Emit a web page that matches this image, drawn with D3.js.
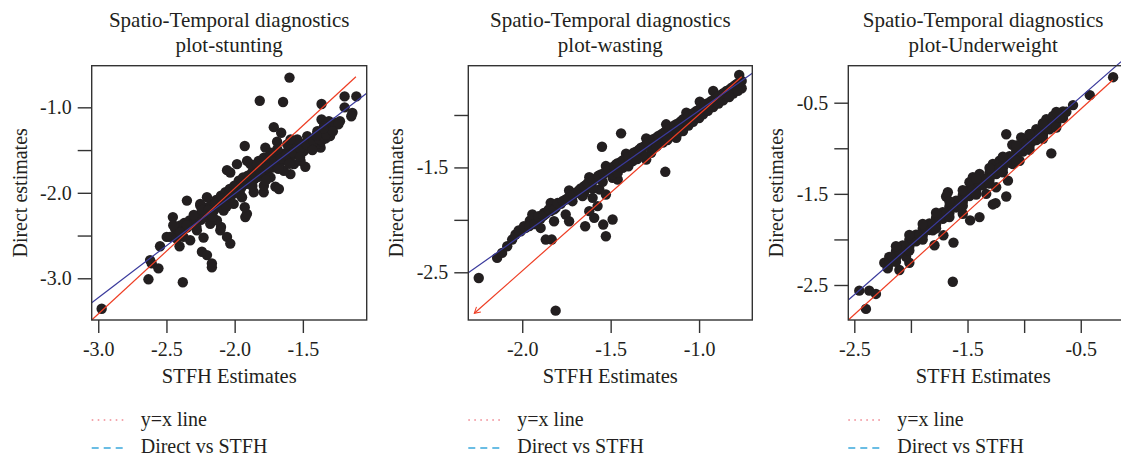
<!DOCTYPE html>
<html><head><meta charset="utf-8">
<script src="https://cdn.jsdelivr.net/npm/d3@7/dist/d3.min.js"></script>
<style>html,body{margin:0;padding:0;background:#fff;}svg{display:block;}</style>
</head><body>
<svg id="chart" width="1121" height="459"></svg>
<script>
// ---------- DATA ----------
const titles = ["plot-stunting", "plot-wasting", "plot-Underweight"];
const titleLine1 = "Spatio-Temporal diagnostics";
const xLabel = "STFH Estimates";
const yLabel = "Direct estimates";
const legendLabels = ["y=x line", "Direct vs STFH"];

const stuntingPoints = [
[-1.598,-0.652],[-1.816,-0.923],[-1.645,-0.938],[-1.363,-0.961],[-1.194,-0.872],[-1.108,-0.872],[-1.194,-1.0],[-1.137,-1.066],[-1.145,-1.104],[-1.228,-1.162],[-1.363,-1.143],[-1.309,-1.162],[-1.32,-1.24],[-1.346,-1.298],[-1.713,-1.232],[-1.659,-1.298],[-1.926,-1.453],[-1.775,-1.472],[-1.689,-1.402],[-1.571,-1.426],[-1.493,-1.511],[-1.444,-1.464],[-1.37,-1.472],[-1.482,-1.696],[-1.591,-1.781],[-1.701,-1.928],[-1.676,-1.955],[-1.787,-1.994],[-1.922,-2.284],[-1.91,-2.246],[-2.056,-1.735],[-2.032,-1.762],[-1.983,-1.665],[-1.909,-1.627],[-1.824,-1.627],[-2.35,-2.091],[-2.453,-2.284],[-2.252,-2.149],[-2.056,-2.516],[-2.032,-2.594],[-2.24,-2.69],[-2.203,-2.729],[-2.167,-2.826],[-2.167,-2.872],[-2.38,-3.046],[-2.632,-3.012],[-2.608,-2.826],[-2.559,-2.884],[-2.62,-2.787],[-2.547,-2.625],[-2.498,-2.516],[-2.404,-2.625],[-2.326,-2.555],[-2.228,-2.524],[-2.975,-3.356],[-1.926,-2.168],[-2.105,-2.439],[-2.10,-2.40],
[-2.436,-2.420],[-2.419,-2.458],[-2.399,-2.381],[-2.387,-2.439],[-2.370,-2.354],[-2.350,-2.408],[-2.331,-2.323],[-2.313,-2.369],[-2.296,-2.284],[-2.282,-2.342],[-2.264,-2.265],[-2.247,-2.315],[-2.228,-2.226],[-2.215,-2.284],[-2.198,-2.168],[-2.184,-2.238],[-2.166,-2.130],[-2.149,-2.199],[-2.135,-2.083],[-2.117,-2.149],[-2.100,-2.033],[-2.086,-2.110],[-2.068,-1.994],[-2.051,-2.052],[-2.036,-1.956],[-2.019,-2.021],[-2.002,-1.917],[-1.987,-1.975],[-1.970,-1.859],[-1.953,-1.944],[-1.938,-1.820],[-1.921,-1.898],[-1.904,-1.801],[-1.889,-1.867],[-1.872,-1.762],[-1.855,-1.839],[-1.840,-1.735],[-1.823,-1.812],[-1.806,-1.704],[-1.791,-1.781],[-1.774,-1.665],[-1.757,-1.735],[-1.742,-1.627],[-1.725,-1.704],[-1.708,-1.596],[-1.693,-1.665],[-1.676,-1.569],[-1.659,-1.634],[-1.644,-1.542],[-1.627,-1.607],[-1.610,-1.518],[-1.595,-1.588],[-1.578,-1.491],[-1.561,-1.549],[-1.546,-1.464],[-1.529,-1.530],[-1.512,-1.441],[-1.497,-1.503],[-1.480,-1.414],[-1.463,-1.472],[-1.448,-1.387],[-1.431,-1.453],[-1.414,-1.364],[-1.399,-1.426],[-1.382,-1.337],[-1.365,-1.395],[-1.350,-1.310],[-1.333,-1.364],[-1.316,-1.279],[-1.301,-1.337],
[-2.473,-2.516],[-2.424,-2.536],[-2.375,-2.516],[-2.277,-2.439],[-2.179,-2.362],[-2.130,-2.323],[-2.203,-2.052],[-2.252,-2.130],[-2.081,-2.207],[-2.007,-2.130],[-1.946,-2.052],[-1.860,-1.994],[-1.786,-1.917],[-1.737,-1.820],[-1.639,-1.743],[-1.566,-1.665],[-1.517,-1.627],[-1.884,-1.665],[-1.786,-1.588],[-1.688,-1.491],[-1.615,-1.433],[-1.541,-1.375],[-1.468,-1.337],[-1.394,-1.279],[-1.345,-1.221],[-1.296,-1.259],[-1.590,-1.375],[-1.737,-1.530],[-1.836,-1.665],
[-2.30,-2.26],[-2.24,-2.20],[-2.19,-2.20],[-2.14,-2.12],[-2.09,-2.07],[-2.04,-2.00],[-1.99,-1.94],[-1.95,-1.90],[-1.90,-1.85],[-1.85,-1.80],[-1.81,-1.76],[-1.76,-1.70],[-1.71,-1.64],[-1.66,-1.60],[-1.62,-1.56],[-1.57,-1.53],[-1.52,-1.48],[-1.47,-1.44],[-1.42,-1.40],[-1.38,-1.37],[-1.33,-1.32],[-2.16,-2.28],[-2.06,-2.16],[-1.96,-2.02],[-1.87,-1.92],[-1.77,-1.85],[-1.68,-1.72],[-1.60,-1.66],[-1.52,-1.58],[-1.43,-1.50],[-2.35,-2.38],[-2.40,-2.46],[-2.45,-2.38],[-2.28,-2.40],
[-1.30,-1.22],[-1.27,-1.18],[-1.24,-1.20],[-1.28,-1.28],[-1.35,-1.25],[-1.40,-1.33]
];

const wastingPoints = [
[-2.246,-2.554],[-1.811,-2.866],[-1.441,-1.175],[-1.549,-1.303],[-1.191,-1.542],[-1.644,-2.061],[-1.593,-1.981],[-1.542,-2.045],[-1.489,-1.997],[-1.527,-2.156],[-1.867,-2.188],[-1.833,-2.188],[-2.142,-2.363],[-2.114,-2.315],[-2.085,-2.252],[-2.057,-2.188],[-1.957,-2.007],[-1.905,-1.965],[-1.877,-1.933],[-1.839,-1.838],[-1.896,-2.077],[-1.820,-2.013],[-1.754,-1.949],[-1.735,-2.013],[-1.602,-1.790],[-1.564,-1.710],[-1.574,-1.869],[-1.527,-1.758],[-1.650,-1.742],[-1.621,-1.917],[-1.489,-1.599],[-1.460,-1.615],[-1.299,-1.424],[-1.271,-1.360],[-1.129,-1.217],[-1.091,-1.153],[-0.773,-0.618],
[-2.038,-2.140],[-2.009,-2.109],[-1.981,-2.077],[-1.953,-2.038],[-1.924,-2.013],[-1.896,-1.987],[-1.867,-1.943],[-1.839,-1.917],[-1.811,-1.886],[-1.782,-1.847],[-1.754,-1.806],[-1.725,-1.774],[-1.697,-1.742],[-1.669,-1.701],[-1.640,-1.669],[-1.612,-1.631],[-1.583,-1.605],[-1.555,-1.567],[-1.527,-1.542],[-1.498,-1.503],[-1.470,-1.472],[-1.441,-1.446],[-1.413,-1.414],[-1.384,-1.382],[-1.356,-1.350],[-1.328,-1.312],[-1.299,-1.280],[-1.271,-1.249],[-1.242,-1.217],[-1.214,-1.185],[-1.186,-1.153],[-1.157,-1.121],[-1.129,-1.089],[-1.100,-1.057],[-1.072,-1.019],[-1.044,-0.994],[-1.015,-0.962],[-0.987,-0.930],[-0.958,-0.892],[-0.930,-0.866],[-0.901,-0.835],[-0.873,-0.803],[-0.845,-0.771],[-0.816,-0.739],[-0.788,-0.707],[-0.759,-0.675],
[-1.716,-1.822],[-1.659,-1.774],[-1.602,-1.701],[-1.545,-1.637],[-1.489,-1.567],[-1.432,-1.503],[-1.375,-1.440],[-1.318,-1.382],[-1.261,-1.319],[-1.205,-1.264],[-1.148,-1.201],[-1.091,-1.137],[-1.034,-1.064],[-0.977,-0.994],[-0.920,-0.924],[-0.864,-0.860],[-0.807,-0.796],[-0.759,-0.745],
[-1.943,-1.949],[-1.830,-1.854],[-1.735,-1.720],[-1.621,-1.593],[-1.527,-1.487],[-1.413,-1.370],[-1.299,-1.223],[-1.186,-1.089],[-1.072,-0.978],[-0.996,-0.873],[-0.920,-0.771],
[-2.02,-2.10],[-1.99,-2.06],[-1.96,-2.06],[-1.93,-2.04],[-1.91,-1.97],[-1.88,-1.96],[-1.85,-1.90],[-1.82,-1.90],[-1.80,-1.84],[-1.77,-1.82],[-1.74,-1.79],[-1.71,-1.76],[-1.68,-1.72],[-1.65,-1.68],[-1.63,-1.65],[-1.60,-1.63],[-1.57,-1.58],[-1.54,-1.56],[-1.51,-1.52],[-1.48,-1.49],[-1.46,-1.46],[-1.43,-1.43],[-1.40,-1.40],[-1.37,-1.36],[-1.34,-1.33],[-1.31,-1.30],[-1.29,-1.26],[-1.26,-1.23],[-1.23,-1.20],[-1.20,-1.17],[-1.17,-1.14],[-1.14,-1.10],[-1.11,-1.07],[-1.09,-1.04],[-1.06,-1.01],[-1.03,-0.98],[-1.00,-0.95],[-0.97,-0.91],[-0.94,-0.88],[-0.91,-0.85],[-0.89,-0.82],[-0.86,-0.79],[-0.83,-0.76],[-0.80,-0.72],[-0.78,-0.70],
[-1.24,-1.30],[-1.18,-1.24],[-1.12,-1.17],[-1.06,-1.10],[-1.00,-1.03],[-0.95,-0.96],[-0.89,-0.89],[-0.83,-0.83],[-0.78,-0.77],[-1.46,-1.55],[-1.40,-1.49],[-1.35,-1.42]
];

const underweightPoints = [
[-0.214,-0.220],[-0.420,-0.417],[-0.568,-0.526],[-1.158,-0.846],[-1.105,-0.962],[-0.760,-1.056],[-1.143,-1.355],[-1.158,-1.529],[-1.276,-1.616],[-1.252,-1.602],[-1.394,-1.755],[-1.477,-1.791],[-1.674,-1.482],[-1.689,-1.529],[-1.713,-1.955],[-1.624,-2.035],[-1.792,-2.064],[-2.014,-2.256],[-2.102,-2.336],[-2.205,-2.318],[-2.235,-2.256],[-2.191,-2.227],[-1.630,-2.464],[-2.456,-2.562],[-2.368,-2.562],[-2.309,-2.598],[-2.397,-2.762],
[-2.191,-2.191],[-2.191,-2.264],[-2.132,-2.129],[-2.132,-2.202],[-2.073,-2.067],[-2.073,-2.140],[-2.014,-2.005],[-2.014,-2.078],[-1.955,-1.947],[-1.955,-2.020],[-1.896,-1.885],[-1.896,-1.958],[-1.837,-1.824],[-1.837,-1.896],[-1.778,-1.762],[-1.778,-1.835],[-1.719,-1.700],[-1.719,-1.773],[-1.660,-1.638],[-1.660,-1.711],[-1.601,-1.576],[-1.601,-1.649],[-1.542,-1.515],[-1.542,-1.587],[-1.483,-1.453],[-1.483,-1.525],[-1.424,-1.391],[-1.424,-1.464],[-1.365,-1.333],[-1.365,-1.406],[-1.306,-1.271],[-1.306,-1.344],[-1.247,-1.209],[-1.247,-1.282],[-1.188,-1.147],[-1.188,-1.220],[-1.129,-1.086],[-1.129,-1.158],[-1.070,-1.024],[-1.070,-1.096],[-1.011,-0.962],[-1.011,-1.035],[-0.952,-0.900],[-0.952,-0.973],[-0.893,-0.838],[-0.893,-0.911],[-0.834,-0.780],[-0.834,-0.853],[-0.775,-0.718],[-0.775,-0.791],[-0.716,-0.657],[-0.716,-0.729],[-0.657,-0.595],[-0.657,-0.667],
[-0.804,-0.682],[-0.745,-0.646],[-0.686,-0.627],[-0.834,-0.736],[-0.893,-0.791],[-0.952,-0.846],[-1.026,-0.882],[-0.981,-0.955],[-0.922,-0.918],[-0.863,-0.827],
[-1.453,-1.318],[-1.394,-1.282],[-1.483,-1.373],[-1.276,-1.173],[-1.217,-1.136],
[-1.542,-1.718],[-1.807,-1.900],[-2.043,-2.191],[-1.335,-1.500],[-1.247,-1.427],[-1.040,-1.137],[-1.099,-1.173],
[-2.161,-2.196],[-2.102,-2.134],[-2.043,-2.073],[-1.984,-2.011],[-1.925,-1.953],[-1.866,-1.891],[-1.807,-1.829],[-1.748,-1.767],[-1.689,-1.705],[-1.630,-1.644],[-1.571,-1.582],[-1.512,-1.520],[-1.453,-1.458],[-1.394,-1.396],[-1.335,-1.338],[-1.276,-1.276],[-1.217,-1.215],[-1.158,-1.153],[-1.099,-1.091],[-1.040,-1.029],[-0.981,-0.967],[-0.922,-0.905],[-0.863,-0.844],[-0.804,-0.785],[-0.745,-0.724],[-0.686,-0.662],[-0.627,-0.600],
[-2.132,-2.074],[-2.014,-1.951],[-1.896,-1.831],[-1.778,-1.707],[-1.660,-1.584],[-1.542,-1.460],[-1.424,-1.336],[-1.306,-1.216],[-1.188,-1.093],[-1.070,-0.969],[-0.952,-0.845],[-0.834,-0.725],[-0.716,-0.602],
[-2.132,-2.245],[-2.014,-2.122],[-1.896,-2.002],[-1.778,-1.878],[-1.660,-1.755],[-1.542,-1.631],[-1.424,-1.507],[-1.306,-1.387],[-1.188,-1.264],[-1.070,-1.140],[-0.952,-1.016],[-0.834,-0.896],[-0.716,-0.773]
];

// reference lines (endpoints in data units): "y=x" (red) and fitted (blue)
const redLines = [
  [[-3.048,-3.488],[-1.111,-0.642]],
  [[-0.759,-0.635],[-2.271,-2.891]],
  [[-2.553,-2.884],[-0.217,-0.251]]
];
const blueLines = [
  [[-3.048,-3.285],[-1.032,-0.836]],
  [[-2.305,-2.504],[-0.699,-0.602]],
  [[-2.553,-2.664],[-0.144,-0.050]]
];

const xTicks = [[-3.0,-2.5,-2.0,-1.5],[-2.0,-1.5,-1.0],[-2.5,-2.0,-1.5,-1.0,-0.5]];
const xTickLabels = [["-3.0","-2.5","-2.0","-1.5"],["-2.0","-1.5","-1.0"],["-2.5","","-1.5","","-0.5"]];
const yTicks = [[-1.0,-1.5,-2.0,-2.5,-3.0],[-1.0,-1.5,-2.0,-2.5],[-0.5,-1.0,-1.5,-2.0,-2.5]];
const yTickLabels = [["-1.0","","-2.0","","-3.0"],["","-1.5","","-2.5"],["-0.5","","-1.5","","-2.5"]];

// ---------- LAYOUT ----------
const panels = [
  {xd:[-3.048,-1.032], yd:[-3.488,-0.513], left:91.7, right:366.7},
  {xd:[-2.305,-0.699], yd:[-2.955,-0.530], left:468.3, right:752.3},
  {xd:[-2.553,-0.065], yd:[-2.884,-0.094], left:848.3, right:1130}
];
const plotTop = 65.7, plotBottom = 320;
const pointSets = [stuntingPoints, wastingPoints, underweightPoints];
const font = "'Liberation Serif','Times New Roman',serif";
const textCol = "#231f20";

const svg = d3.select("#chart");
svg.append("rect").attr("width",1121).attr("height",459).attr("fill","#fff");

const defs = svg.append("defs");
defs.append("marker").attr("id","arrow").attr("viewBox","-10 -6 12 12")
  .attr("refX",0).attr("refY",0).attr("markerWidth",10).attr("markerHeight",10)
  .attr("markerUnits","userSpaceOnUse").attr("orient","auto")
  .append("path").attr("d","M-7,-4L0,0L-7,4").attr("fill","none")
  .attr("stroke","#ee3d23").attr("stroke-width",1.2);

panels.forEach((p,i)=>{
  const x = d3.scaleLinear().domain(p.xd).range([p.left,p.right]);
  const y = d3.scaleLinear().domain(p.yd).range([plotBottom,plotTop]);
  const g = svg.append("g");
  const tcx = i===2 ? (p.left + p.right)/2 - 6 : (p.left+p.right)/2;

  g.append("text").attr("x",tcx).attr("y",26.5).attr("text-anchor","middle")
    .attr("font-family",font).attr("font-size",21).attr("fill",textCol).text(titleLine1);
  g.append("text").attr("x",tcx).attr("y",51.5).attr("text-anchor","middle")
    .attr("font-family",font).attr("font-size",21).attr("fill",textCol).text(titles[i]);

  g.append("g").selectAll("circle").data(pointSets[i]).join("circle")
    .attr("cx",d=>x(d[0])).attr("cy",d=>y(d[1])).attr("r",5.2).attr("fill","#231f20");

  const line = d3.line().x(d=>x(d[0])).y(d=>y(d[1]));
  const rl = g.append("path").attr("d",line(redLines[i])).attr("fill","none")
    .attr("stroke","#ee3d23").attr("stroke-width",1.2);
  if(i===1) rl.attr("marker-end","url(#arrow)");
  g.append("path").attr("d",line(blueLines[i])).attr("fill","none")
    .attr("stroke","#3a3a9c").attr("stroke-width",1.2);

  g.append("rect").attr("x",p.left).attr("y",plotTop).attr("width",p.right-p.left)
    .attr("height",plotBottom-plotTop).attr("fill","none").attr("stroke","#333").attr("stroke-width",1.4);

  const xa = d3.axisBottom(x).tickValues(xTicks[i]).tickSize(13).tickPadding(9)
    .tickFormat((d,k)=>xTickLabels[i][k]);
  const gx = g.append("g").attr("transform",`translate(0,${plotBottom})`).call(xa);
  gx.select(".domain").remove();
  gx.selectAll(".tick line").attr("stroke","#333").attr("stroke-width",1.4);
  gx.selectAll(".tick text").attr("font-family",font).attr("font-size",20).attr("fill",textCol);

  const ya = d3.axisLeft(y).tickValues(yTicks[i]).tickSize(14).tickPadding(6)
    .tickFormat((d,k)=>yTickLabels[i][k]);
  const gy = g.append("g").attr("transform",`translate(${p.left},0)`).call(ya);
  gy.select(".domain").remove();
  gy.selectAll(".tick line").attr("stroke","#333").attr("stroke-width",1.4);
  gy.selectAll(".tick text").attr("font-family",font).attr("font-size",20).attr("fill",textCol);

  g.append("text").attr("x",tcx).attr("y",383).attr("text-anchor","middle")
    .attr("font-family",font).attr("font-size",20.5).attr("fill",textCol).text(xLabel);
  g.append("text").attr("transform",`translate(${p.left-65},${(plotTop+plotBottom)/2}) rotate(-90)`)
    .attr("text-anchor","middle").attr("font-family",font).attr("font-size",20)
    .attr("fill",textCol).text(yLabel);

  const lx = p.left;
  g.append("line").attr("x1",lx).attr("x2",lx+36).attr("y1",420).attr("y2",420)
    .attr("stroke","#f08a94").attr("stroke-width",1.6).attr("stroke-dasharray","1.6,4.4");
  g.append("line").attr("x1",lx).attr("x2",lx+36).attr("y1",448).attr("y2",448)
    .attr("stroke","#3aa8dc").attr("stroke-width",1.6).attr("stroke-dasharray","7,5");
  g.append("text").attr("x",lx+49).attr("y",426).attr("font-family",font).attr("font-size",20)
    .attr("fill",textCol).text(legendLabels[0]);
  g.append("text").attr("x",lx+49).attr("y",453).attr("font-family",font).attr("font-size",20)
    .attr("fill",textCol).text(legendLabels[1]);
});
</script>
</body></html>
